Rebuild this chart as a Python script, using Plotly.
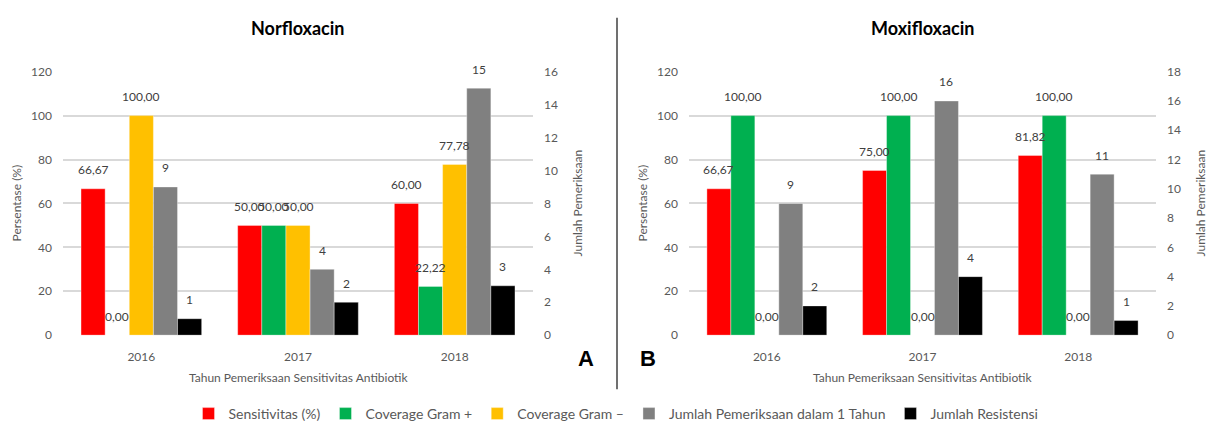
import plotly.graph_objects as go

# ---- data -------------------------------------------------------------
years = ["2016", "2017", "2018"]

# Norfloxacin
nor_sensitivitas = [66.67, 50.00, 60.00]
nor_gram_pos = [0.00, 50.00, 22.22]
nor_gram_neg = [100.00, 50.00, 77.78]
nor_pemeriksaan = [9, 4, 15]
nor_resistensi = [1, 2, 3]

# Moxifloxacin
mox_sensitivitas = [66.67, 75.00, 81.82]
mox_gram_pos = [100.00, 100.00, 100.00]
mox_gram_neg = [0.00, 0.00, 0.00]
mox_pemeriksaan = [9, 16, 11]
mox_resistensi = [2, 4, 1]

series_names = [
    "Sensitivitas (%)",
    "Coverage Gram +",
    "Coverage Gram –",
    "Jumlah Pemeriksaan dalam 1 Tahun",
    "Jumlah Resistensi",
]
series_colors = ["#FF0000", "#00B050", "#FFC000", "#808080", "#000000"]

# ---- layout constants -------------------------------------------------
W, H = 1209, 430
FONT = "Lato, 'Open Sans', sans-serif"
TXT = "#595959"
GRID = "#D9D9D9"

Y_DOM = [1 - 339 / H, 1 - 66 / H]
X_DOM_L = [63 / W, 533 / W]
X_DOM_R = [689 / W, 1156 / W]

BARGAP = 0.23
N_SERIES = len(series_names)
BAR_W = (1 - BARGAP) / N_SERIES


def pct_label(v):
    return f"{v:.2f}".replace(".", ",")


def cnt_label(v):
    return str(int(v))


fig = go.Figure()
annotations = []


def add_panel(xref, yref_pct, yref_cnt, xdom, data, show_legend, group):
    cat_px = (xdom[1] - xdom[0]) * W / len(years)
    for i, (name, color, vals) in enumerate(zip(series_names, series_colors, data)):
        is_count = i >= 3
        yref = yref_cnt if is_count else yref_pct
        fig.add_trace(
            go.Bar(
                x=years,
                y=vals,
                name=name,
                marker=dict(color=color, line=dict(color="rgba(255,255,255,0.6)", width=0.6)),
                xaxis=xref,
                yaxis=yref,
                alignmentgroup=group,
                offsetgroup=str(i),
                legendgroup=name,
                showlegend=show_legend,
            )
        )
        # value labels sitting above each bar (x given as category index)
        shift = (-(1 - BARGAP) / 2 + (i + 0.5) * BAR_W) * cat_px
        for j, v in enumerate(vals):
            annotations.append(
                dict(
                    x=j,
                    y=v,
                    xref=xref,
                    yref=yref,
                    text=cnt_label(v) if is_count else pct_label(v),
                    showarrow=False,
                    xshift=shift,
                    yshift=19,
                    font=dict(family=FONT, size=12, color="#404040"),
                )
            )


add_panel("x", "y", "y2", X_DOM_L,
          [nor_sensitivitas, nor_gram_pos, nor_gram_neg, nor_pemeriksaan, nor_resistensi],
          True, "nor")
add_panel("x2", "y3", "y4", X_DOM_R,
          [mox_sensitivitas, mox_gram_pos, mox_gram_neg, mox_pemeriksaan, mox_resistensi],
          False, "mox")

tickfont = dict(family=FONT, size=12, color=TXT)

xaxis_common = dict(
    type="category",
    categoryorder="array",
    categoryarray=years,
    range=[-0.5, len(years) - 0.5],
    showgrid=False,
    showline=False,
    zeroline=False,
    ticks="",
    tickfont=tickfont,
    ticklabelstandoff=13,
)
yleft_common = dict(
    range=[0, 120],
    dtick=20,
    showgrid=True,
    gridcolor=GRID,
    gridwidth=1.5,
    zeroline=False,
    showline=False,
    ticks="",
    tickfont=tickfont,
    ticklabelstandoff=10,
    domain=Y_DOM,
)
yright_common = dict(
    dtick=2,
    showgrid=False,
    zeroline=False,
    showline=False,
    ticks="",
    tickfont=tickfont,
    side="right",
    ticklabelstandoff=10,
)

fig.update_layout(
    width=W,
    height=H,
    margin=dict(l=0, r=0, t=0, b=0),
    paper_bgcolor="white",
    plot_bgcolor="white",
    barmode="group",
    bargap=BARGAP,
    bargroupgap=0,
    font=dict(family=FONT, color=TXT),
    xaxis=dict(domain=X_DOM_L, anchor="y", **xaxis_common),
    yaxis=dict(anchor="x", **yleft_common),
    yaxis2=dict(anchor="x", overlaying="y", range=[0, 16], **yright_common),
    xaxis2=dict(domain=X_DOM_R, anchor="y3", **xaxis_common),
    yaxis3=dict(anchor="x2", **yleft_common),
    yaxis4=dict(anchor="x2", overlaying="y3", range=[0, 18], **yright_common),
    legend=dict(
        orientation="h",
        x=616 / W,
        xanchor="center",
        y=1 - 421 / H,
        yanchor="middle",
        font=dict(family=FONT, size=14, color=TXT),
        itemwidth=30,
        traceorder="normal",
        bgcolor="rgba(0,0,0,0)",
    ),
    showlegend=True,
)

# panel titles, axis titles and panel letters
side_title_font = dict(family=FONT, size=12, color=TXT)
for xdom, title, letter, letter_x in [
    (X_DOM_L, "Norfloxacin", "A", 586),
    (X_DOM_R, "Moxifloxacin", "B", 648),
]:
    cx = (xdom[0] + xdom[1]) / 2
    annotations.append(dict(
        x=cx, y=1 - 21 / H, xref="paper", yref="paper", showarrow=False,
        text=f"<b>{title}</b>", font=dict(family=FONT, size=18, color="#000000"),
        xanchor="center", yanchor="middle",
    ))
    annotations.append(dict(
        x=cx, y=1 - 383 / H, xref="paper", yref="paper", showarrow=False,
        text="Tahun Pemeriksaan Sensitivitas Antibiotik", font=side_title_font,
        xanchor="center", yanchor="middle",
    ))
    annotations.append(dict(
        x=letter_x / W, y=1 - 363 / H, xref="paper", yref="paper", showarrow=False,
        text=f"<b>{letter}</b>", font=dict(family="Liberation Sans, Arial, sans-serif", size=22, color="#000000"),
        xanchor="center", yanchor="middle",
    ))

for x_px, text in [(16, "Persentase (%)"), (577, "Jumlah Pemeriksaan"),
                   (642, "Persentase (%)"), (1200, "Jumlah Pemeriksaan")]:
    annotations.append(dict(
        x=x_px / W, y=(Y_DOM[0] + Y_DOM[1]) / 2, xref="paper", yref="paper",
        showarrow=False, text=text, textangle=-90, font=side_title_font,
        xanchor="center", yanchor="middle",
    ))

fig.update_layout(annotations=annotations)

# divider between the two panels
fig.add_shape(
    type="line", xref="paper", yref="paper",
    x0=617 / W, x1=617 / W, y0=1 - 395 / H, y1=1 - 10 / H,
    line=dict(color="#404040", width=1.5),
)

fig.write_html("out.html")
